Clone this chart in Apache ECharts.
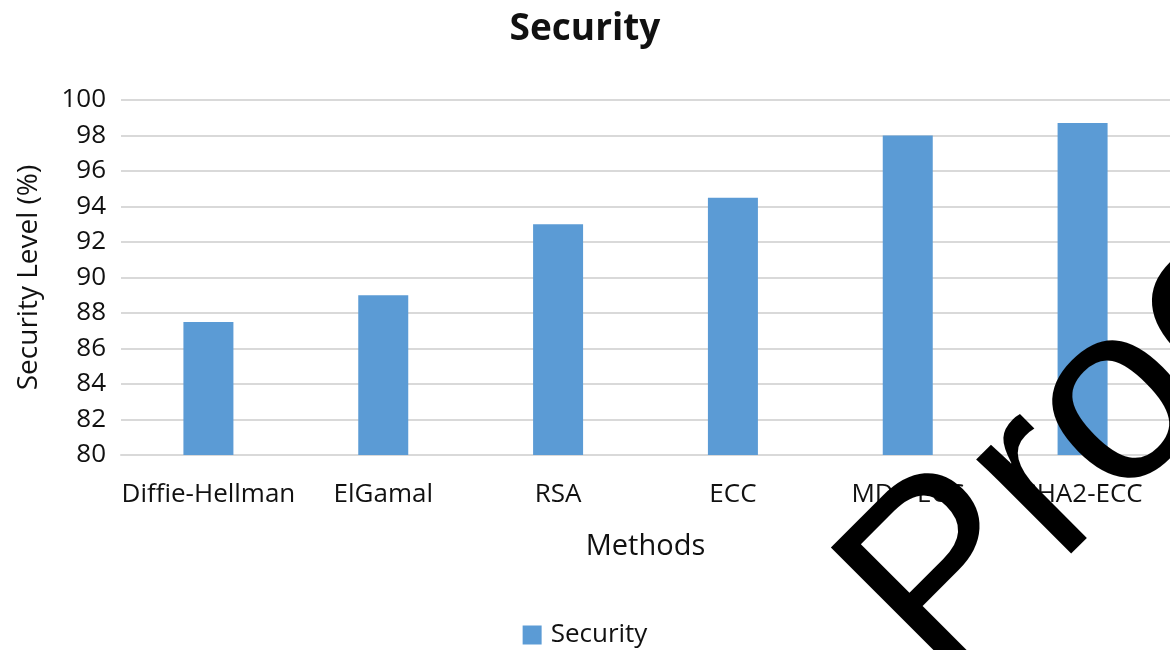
<!DOCTYPE html>
<html>
<head>
<meta charset="utf-8">
<title>Security</title>
<script src="https://cdn.jsdelivr.net/npm/echarts@6/dist/echarts.min.js"></script>
<style>
  html, body { margin: 0; padding: 0; background: #ffffff; }
  #chart { width: 1170px; height: 650px; }
</style>
</head>
<body>
<div id="chart"></div>
<script>
// Security level of each key-exchange / encryption method
const categories = ['Diffie-Hellman', 'ElGamal', 'RSA', 'ECC', 'MD5-ECC', 'SHA2-ECC'];
const securityValues = [87.5, 89, 93, 94.5, 98, 98.7];
const seriesName = 'Security';
const yTicks = { min: 80, max: 100, step: 2 };
const overlayText = 'Proc';

const FONT = '"Open Sans", "Noto Sans", sans-serif';
const TEXT_COLOR = '#111111';
const GRID_COLOR = '#d9d9d9';
const BAR_COLOR = '#5b9bd5';

const chart = echarts.init(document.getElementById('chart'), null, { renderer: 'canvas' });

const option = {
  backgroundColor: '#ffffff',
  animation: false,
  textStyle: { fontFamily: FONT, color: TEXT_COLOR },
  title: {
    text: 'Security',
    left: 'center',
    top: 6,
    textStyle: { fontFamily: FONT, fontSize: 37, fontWeight: 'bold', color: TEXT_COLOR }
  },
  legend: {
    data: [seriesName],
    left: 'center',
    top: 617,
    icon: 'rect',
    itemWidth: 19,
    itemHeight: 19,
    textStyle: { fontFamily: FONT, fontSize: 26, color: TEXT_COLOR, padding: [0, 0, 0, 4] }
  },
  grid: {
    left: 121,
    top: 100,
    width: 1054,
    height: 355,
    containLabel: false
  },
  xAxis: {
    type: 'category',
    data: categories,
    name: 'Methods',
    nameLocation: 'middle',
    nameGap: 77,
    nameTextStyle: { fontFamily: FONT, fontSize: 29, color: TEXT_COLOR },
    axisTick: { show: false },
    axisLine: { show: true, lineStyle: { color: GRID_COLOR, width: 2 } },
    axisLabel: { fontFamily: FONT, fontSize: 26, color: TEXT_COLOR, margin: 27, interval: 0 }
  },
  yAxis: {
    type: 'value',
    min: yTicks.min,
    max: yTicks.max,
    interval: yTicks.step,
    name: 'Security Level (%)',
    nameLocation: 'middle',
    nameGap: 78,
    nameRotate: 90,
    nameTextStyle: { fontFamily: FONT, fontSize: 28, color: TEXT_COLOR },
    axisLine: { show: false },
    axisTick: { show: false },
    axisLabel: { fontFamily: FONT, fontSize: 26, color: TEXT_COLOR, margin: 15 },
    splitLine: { show: true, lineStyle: { color: GRID_COLOR, width: 2 } }
  },
  series: [{
    name: seriesName,
    type: 'bar',
    data: securityValues,
    barWidth: 50,
    itemStyle: { color: BAR_COLOR }
  }],
  graphic: [{
    type: 'text',
    z: 100,
    x: 890,
    y: 636,
    rotation: Math.PI / 4,
    style: {
      text: overlayText,
      font: '253px "Liberation Sans", Arial, sans-serif',
      fill: '#000000',
      align: 'left',
      verticalAlign: 'middle'
    }
  }]
};

chart.setOption(option);
</script>
</body>
</html>
